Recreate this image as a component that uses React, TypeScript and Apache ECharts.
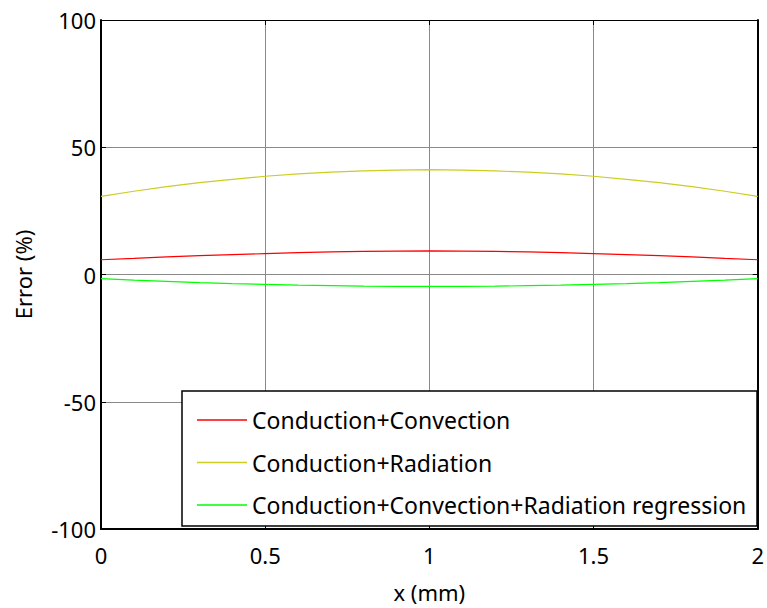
import React, { useEffect, useRef } from "react";
import * as echarts from "echarts";

const xValues = [0, 0.1, 0.2, 0.3, 0.4, 0.5, 0.6, 0.7, 0.8, 0.9, 1.0, 1.1, 1.2, 1.3, 1.4, 1.5, 1.6, 1.7, 1.8, 1.9, 2.0];
const convection = [5.8, 6.3, 6.9, 7.4, 7.8, 8.2, 8.6, 8.9, 9.1, 9.2, 9.3, 9.2, 9.1, 8.9, 8.6, 8.2, 7.8, 7.4, 6.9, 6.3, 5.8];
const radiation = [30.7, 32.7, 34.5, 36.1, 37.4, 38.6, 39.5, 40.2, 40.7, 41.0, 41.2, 41.0, 40.7, 40.2, 39.5, 38.6, 37.4, 36.1, 34.5, 32.7, 30.7];
const regression = [-1.6, -2.2, -2.7, -3.2, -3.6, -3.9, -4.2, -4.4, -4.6, -4.7, -4.7, -4.7, -4.6, -4.4, -4.2, -3.9, -3.6, -3.2, -2.7, -2.2, -1.6];
const seriesNames = ["Conduction+Convection", "Conduction+Radiation", "Conduction+Convection+Radiation regression"];
const seriesColors = ["#ff0000", "#cccc22", "#00ff00"];

const FONT = "Noto Sans";

export default function App() {
  const ref = useRef<HTMLDivElement>(null);
  useEffect(() => {
    const chart = echarts.init(ref.current!, undefined, { renderer: "svg" });
    const datasets = [convection, radiation, regression];
    chart.setOption({
      animation: false,
      backgroundColor: "#ffffff",
      textStyle: { fontFamily: FONT },
      grid: { left: 101, right: 4, top: 20, bottom: 75 },
      xAxis: [
        {
          type: "value",
          min: 0,
          max: 2,
          interval: 0.5,
          name: "x (mm)",
          nameLocation: "middle",
          nameGap: 52,
          nameTextStyle: { fontSize: 22, color: "#000", fontFamily: FONT },
          axisLine: { show: true, onZero: false, lineStyle: { color: "#000", width: 2 } },
          axisTick: { show: true, inside: true, length: 5, lineStyle: { color: "#000" } },
          axisLabel: { fontSize: 22, color: "#000", margin: 15, fontFamily: FONT },
          splitLine: { show: true, lineStyle: { color: "#8a8a8a", width: 1 } },
        },
        {
          type: "value",
          position: "top",
          min: 0,
          max: 2,
          interval: 0.5,
          axisLine: { show: true, onZero: false, lineStyle: { color: "#000", width: 1 } },
          axisTick: { show: true, inside: true, length: 5, lineStyle: { color: "#000" } },
          axisLabel: { show: false },
          splitLine: { show: false },
        },
      ],
      yAxis: [
        {
          type: "value",
          min: -100,
          max: 100,
          interval: 50,
          name: "Error (%)",
          nameLocation: "middle",
          nameGap: 67,
          nameRotate: 90,
          nameTextStyle: { fontSize: 22, color: "#000", fontFamily: FONT },
          axisLine: { show: true, onZero: false, lineStyle: { color: "#000", width: 2 } },
          axisTick: { show: true, inside: true, length: 5, lineStyle: { color: "#000" } },
          axisLabel: { fontSize: 22, color: "#000", margin: 5, fontFamily: FONT },
          splitLine: { show: true, lineStyle: { color: "#8a8a8a", width: 1 } },
        },
        {
          type: "value",
          position: "right",
          min: -100,
          max: 100,
          interval: 50,
          axisLine: { show: true, onZero: false, lineStyle: { color: "#000", width: 2 } },
          axisTick: { show: true, inside: true, length: 5, lineStyle: { color: "#000" } },
          axisLabel: { show: false },
          splitLine: { show: false },
        },
      ],
      legend: {
        orient: "vertical",
        left: 192,
        top: 403,
        itemWidth: 50,
        itemHeight: 1.5,
        itemGap: 18.5,
        z: 20,
        icon: "rect",
        textStyle: { fontSize: 23, color: "#000", fontFamily: FONT, lineHeight: 24 },
        data: seriesNames,
      },
      graphic: [
        {
          type: "rect",
          z: 10,
          shape: { x: 182, y: 391, width: 575, height: 135 },
          style: { fill: "#ffffff", stroke: "#000", lineWidth: 1.5 },
        },
      ],
      series: datasets.map((d, i) => ({
        name: seriesNames[i],
        type: "line",
        symbol: "none",
        color: seriesColors[i],
        lineStyle: { width: 1.2, color: seriesColors[i] },
        data: xValues.map((x, j) => [x, d[j]]),
      })),
    });
    return () => chart.dispose();
  }, []);
  return <div ref={ref} style={{ width: 767, height: 608, position: "absolute", left: 0, top: 0 }} />;
}
